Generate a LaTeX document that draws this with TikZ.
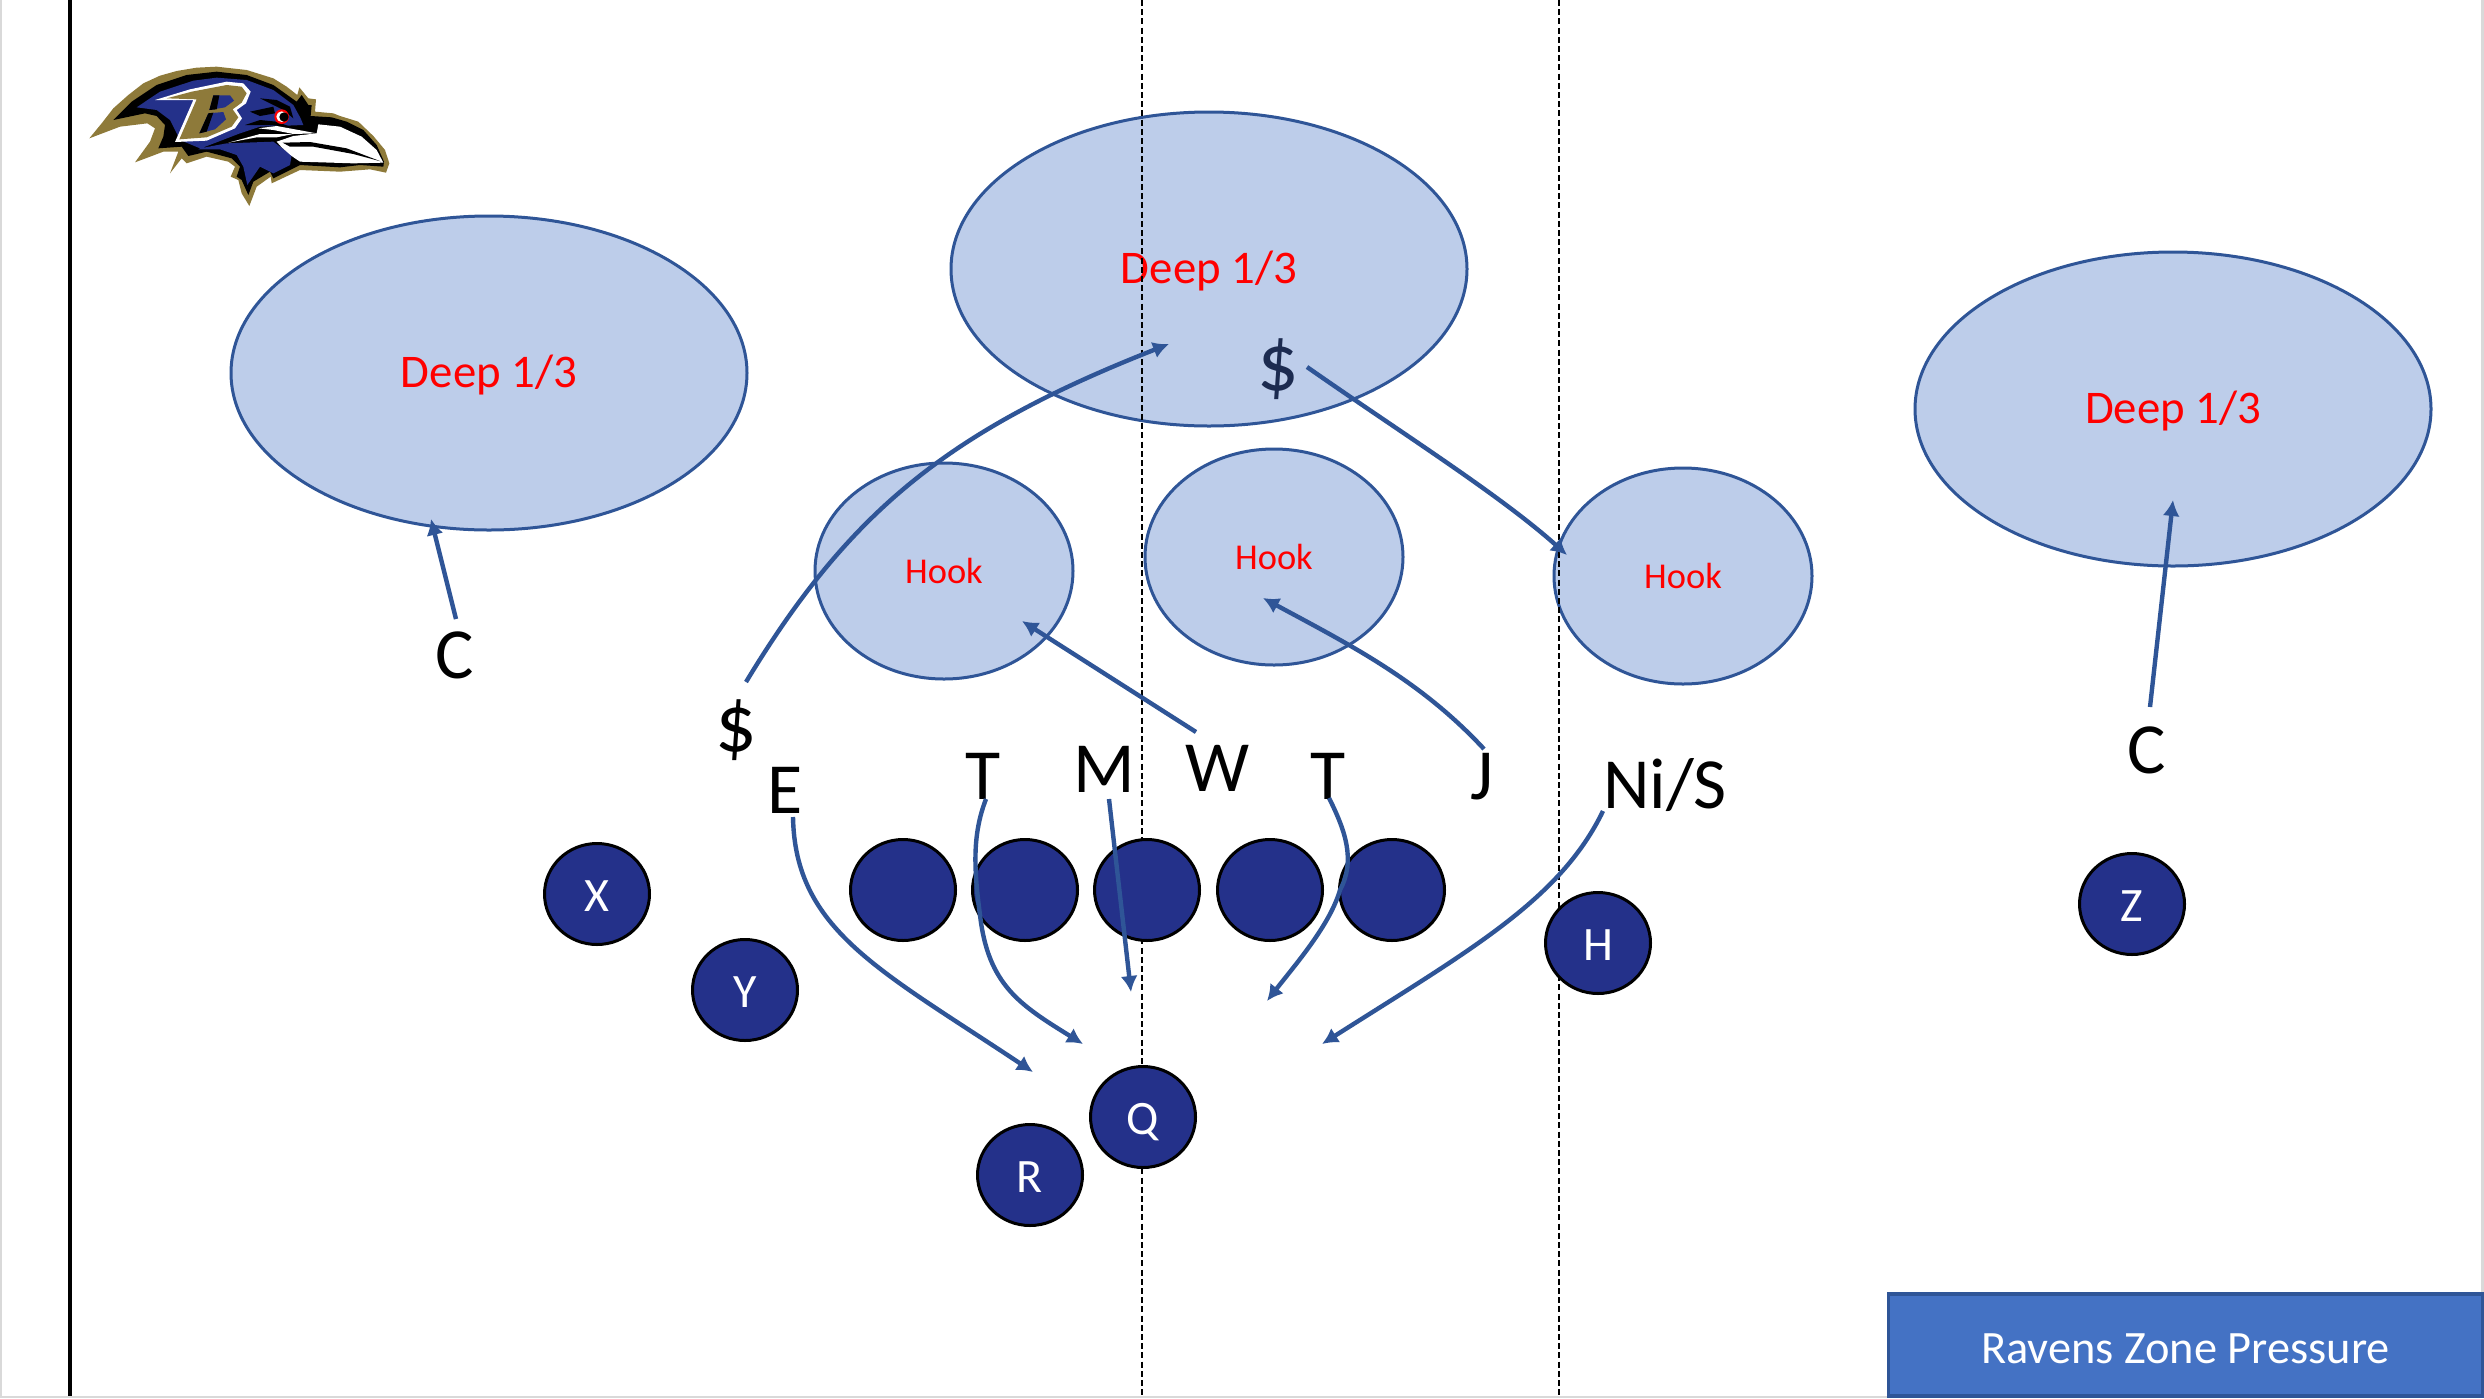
\documentclass[tikz,border=0pt]{standalone}
\usepackage{fontspec}
\setmainfont{Carlito}
\usetikzlibrary{shapes.geometric,arrows.meta}
\definecolor{zonefill}{HTML}{BDCDEA}
\definecolor{zoneline}{HTML}{2F5597}
\definecolor{navy}{HTML}{24318A}
\definecolor{boxfill}{HTML}{4472C4}
\definecolor{dimtext}{HTML}{1C2B50}
\definecolor{bggold}{HTML}{8E7A3A}
\definecolor{edge}{HTML}{D9D9D9}
\tikzset{
  deepzone/.style={ellipse,draw=zoneline,fill=zonefill,line width=1.5pt,minimum width=258pt,minimum height=157pt,inner sep=0pt,text=red,text height=16pt,text depth=2pt,font=\fontsize{23.4}{26}\selectfont},
  hookzone/.style={ellipse,draw=zoneline,fill=zonefill,line width=1.5pt,minimum width=129pt,minimum height=108pt,inner sep=0pt,text=red,font=\fontsize{18.2}{20}\selectfont},
  player/.style={ellipse,draw=black,fill=navy,line width=1.5pt,minimum width=52.5pt,minimum height=50.5pt,inner sep=0pt,text=white,text height=17pt,text depth=0pt,font=\fontsize{24}{26}\selectfont},
  defender/.style={anchor=base,inner sep=0pt,text=black,font=\fontsize{36}{40}\selectfont},
  bigdollar/.style={anchor=base,inner sep=0pt,font=\fontsize{41}{44}\selectfont},
  routeline/.style={draw=zoneline,line width=2.2pt,-{Latex[length=8pt,width=8.5pt]}},
  fieldline/.style={black,line width=0.6pt,dash pattern=on 3pt off 1.6pt},
  titlebox/.style={draw=zoneline,fill=boxfill,line width=1.7pt,text=white,minimum width=297pt,minimum height=51pt,inner sep=0pt,text height=18pt,text depth=0pt,font=\fontsize{23.2}{26}\selectfont}
}
\begin{document}
\begin{tikzpicture}[x=0.5pt,y=-0.5pt]
\useasboundingbox (0,0) rectangle (2484,1398);
\fill[white] (0,0) rectangle (2484,1398);
\fill[edge] (0,1396) rectangle (2484,1398);
\fill[edge] (2481,0) rectangle (2484,1398);
\fill[edge] (0,0) rectangle (1.5,1398);
\draw[black,line width=1.6pt] (70,0) -- (70,1396);

% logo
\begin{scope}[shift={(60,30)},x=0.16667pt,y=-0.16667pt]
\fill[bggold] (88,325) -- (125,280) -- (160,235) -- (205,195) -- (250,160) -- (300,137) -- (350,123) -- (410,113) -- (470,110) -- (560,120) -- (640,145) -- (680,170) -- (712,195) -- (718,172) -- (745,205) -- (768,208) -- (765,245) -- (820,250) -- (840,258) -- (895,275) -- (940,318) -- (975,360) -- (988,400) -- (978,428) -- (930,418) -- (840,425) -- (720,420) -- (635,460) -- (632,440) -- (590,470) -- (568,528) -- (545,490) -- (535,450) -- (512,440) -- (525,410) -- (505,395) -- (440,380) -- (380,400) -- (365,385) -- (330,430) -- (355,365) -- (310,365) -- (225,397) -- (270,335) -- (285,295) -- (262,280) -- (180,290) -- cycle;
\fill[black] (160,270) -- (215,215) -- (290,165) -- (380,135) -- (470,125) -- (560,135) -- (640,165) -- (710,215) -- (725,195) -- (745,225) -- (755,225) -- (752,258) -- (815,262) -- (860,275) -- (910,300) -- (950,345) -- (972,395) -- (970,410) -- (900,405) -- (840,412) -- (720,405) -- (640,445) -- (630,425) -- (580,455) -- (565,495) -- (545,450) -- (530,440) -- (540,410) -- (515,385) -- (440,365) -- (385,378) -- (365,350) -- (295,355) -- (310,320) -- (315,285) -- (290,258) -- (255,250) -- cycle;
\fill[navy] (230,232) -- (300,185) -- (400,152) -- (470,143) -- (560,150) -- (640,180) -- (700,225) -- (722,265) -- (730,285) -- (600,290) -- (540,310) -- (415,358) -- (480,358) -- (530,375) -- (550,410) -- (562,465) -- (600,410) -- (640,430) -- (690,405) -- (695,375) -- (660,350) -- (640,335) -- (500,340) -- (420,355) -- (360,330) -- (330,270) -- (290,240) -- cycle;
\fill[white] (650,335) -- (700,318) -- (770,310) -- (775,283) -- (840,290) -- (905,320) -- (950,360) -- (970,398) -- (880,400) -- (720,395) -- (695,378) -- (665,352) -- cycle;
\fill[black] (668,338) -- (750,336) -- (860,355) -- (962,394) -- (880,372) -- (760,350) -- (690,350) -- cycle;
\fill[black] (600,205) -- (650,210) -- (690,230) -- (700,265) -- (670,240) -- cycle;
\fill[black] (570,245) -- (640,230) -- (645,250) -- (600,258) -- cycle;
\fill[black] (555,285) -- (600,270) -- (650,275) -- (690,290) -- (620,285) -- cycle;
\fill[white] (505,338) -- (600,312) -- (700,312) -- (650,322) -- (590,322) -- cycle;
\fill[white] (595,295) -- (650,288) -- (770,310) -- (700,312) -- (640,300) -- cycle;
% B
\fill[white] (285,210) -- (390,178) -- (500,155) -- (550,160) -- (572,185) -- (558,220) -- (530,240) -- (546,265) -- (525,295) -- (440,332) -- (345,336) -- (400,210) -- cycle;
\fill[bggold] (320,205) -- (395,185) -- (500,165) -- (545,170) -- (560,190) -- (545,218) -- (518,238) -- (535,262) -- (515,290) -- (440,322) -- (358,328) -- (410,208) -- cycle;
\fill[navy] (460,196) -- (510,196) -- (522,212) -- (495,232) -- (448,240) -- cycle;
\fill[navy] (445,250) -- (490,246) -- (498,268) -- (465,298) -- (418,310) -- cycle;
\fill[black] (460,196) -- (478,196) -- (470,238) -- (448,240) -- cycle;
\fill[black] (445,250) -- (460,248) -- (440,305) -- (418,310) -- cycle;
% eye
\fill[red] (665,260) circle[radius=22];
\fill[white] (665,260) circle[radius=16];
\fill[black] (672,261) circle[radius=14];
\end{scope}

% zones
\node[deepzone] (deepA) at (489,373) {Deep 1/3};
\node[deepzone] (deepB) at (1209,269) {Deep 1/3};
\node[deepzone] (deepC) at (2173,409) {Deep 1/3};
\node[hookzone] (hookA) at (944,571) {Hook};
\node[hookzone] (hookB) at (1274,557) {Hook};
\node[hookzone] (hookC) at (1683,576) {Hook};

% dollar under the translucent zone
\node[bigdollar,text=dimtext] (dTop) at (1278,390) {\$};

% field lines
\coordinate (fA) at (1142,0);
\coordinate (fB) at (1142,1396);
\coordinate (fC) at (1559,0);
\coordinate (fD) at (1559,1396);
\draw[fieldline] (fA) -- (fB);
\draw[fieldline] (fC) -- (fD);

% offence
\node[player] (pX) at (597,894) {X};
\node[player] (pY) at (745,990) {Y};
\node[player] (ol1) at (903,890) {};
\node[player] (ol2) at (1025,890) {};
\node[player] (ol3) at (1147,890) {};
\node[player] (ol4) at (1270,890) {};
\node[player] (ol5) at (1392,890) {};
\node[player] (pH) at (1598,943) {H};
\node[player] (pZ) at (2132,904) {Z};
\node[player] (pQ) at (1143,1117) {Q};
\node[player] (pR) at (1030,1175) {R};

% defenders
\node[defender] (dC1) at (455,678) {C};
\node[defender] (dC2) at (2147,773) {C};
\node[bigdollar] (dS) at (736,751) {\$};
\node[defender] (dE) at (785,813) {E};
\node[defender] (dT1) at (983,799) {T};
\node[defender] (dM) at (1104,792) {M};
\node[defender] (dW) at (1218,791) {W};
\node[defender] (dT2) at (1328,799) {T};
\node[defender] (dJ) at (1482,799) {J};
\node[defender] (dN) at (1665,808) {Ni/S};

% route ends
\coordinate (eC1) at (431,519);
\coordinate (eS) at (1169,344);
\coordinate (eTop) at (1567,555);
\coordinate (eW) at (1022,621);
\coordinate (eJ) at (1263,598);
\coordinate (eC2) at (2173,500);
\coordinate (eE) at (1033,1072);
\coordinate (eT1) at (1083,1044);
\coordinate (eM) at (1131,992);
\coordinate (eT2) at (1267,1001);
\coordinate (eN) at (1322,1044);

% routes
\draw[routeline] ([shift={(1,-59)}]dC1.base) -- (eC1);
\draw[routeline] ([shift={(10,-69)}]dS.base) .. controls (850,510) and (950,430) .. (eS);
\draw[routeline] ([shift={(29,-23)}]dTop.base) .. controls (1400,432) and (1500,495) .. (eTop);
\draw[routeline] ([shift={(-22,-59)}]dW.base) -- (eW);
\draw[routeline] ([shift={(2,-50)}]dJ.base) .. controls (1420,680) and (1350,645) .. (eJ);
\draw[routeline] ([shift={(3,-66)}]dC2.base) -- (eC2);
\draw[routeline] ([shift={(8,4)}]dE.base) .. controls (795,930) and (880,970) .. (eE);
\draw[routeline] ([shift={(3,0)}]dT1.base) .. controls (972,835) and (974,870) .. (980,915) .. controls (988,985) and (1020,1005) .. (eT1);
\draw[routeline] ([shift={(5,7)}]dM.base) -- (eM);
\draw[routeline] ([shift={(1,-1)}]dT2.base) .. controls (1345,830) and (1356,860) .. (1340,890) .. controls (1330,925) and (1295,965) .. (eT2);
\draw[routeline] ([shift={(-62,3)}]dN.base) .. controls (1560,900) and (1470,950) .. (eN);

% title
\node[titlebox] (title) at (2185.5,1345) {Ravens Zone Pressure};
\end{tikzpicture}
\end{document}
